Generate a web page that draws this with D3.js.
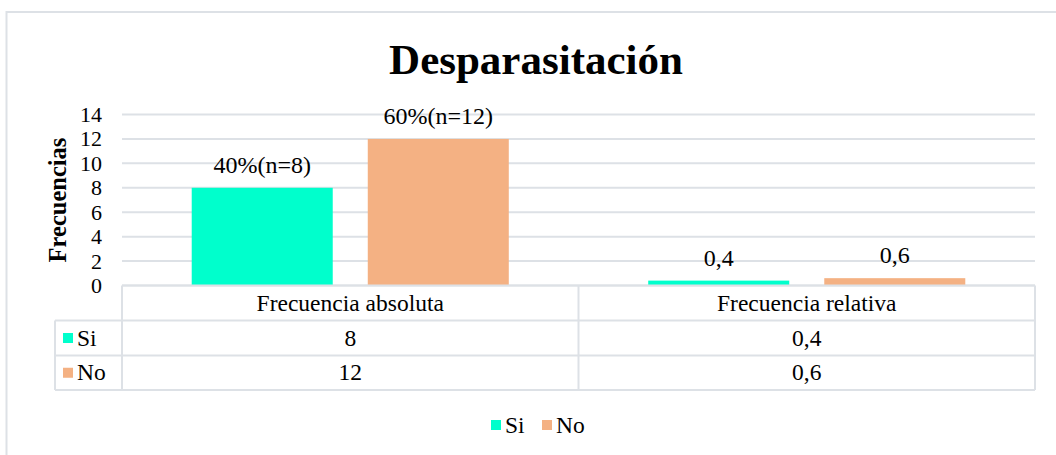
<!DOCTYPE html>
<html>
<head>
<meta charset="utf-8">
<script src="https://cdn.jsdelivr.net/npm/d3@7"></script>
<style>
  body { margin: 0; background: #fff; }
  text { font-family: "Liberation Serif", "Times New Roman", serif; fill: #000; }
</style>
</head>
<body>
<div id="chart"></div>
<script>
var categories = ["Frecuencia absoluta", "Frecuencia relativa"];
var series = ["Si", "No"];
var siValues = [8, 0.4];
var noValues = [12, 0.6];
var siLabels = ["40%(n=8)", "0,4"];
var noLabels = ["60%(n=12)", "0,6"];
var siTable = ["8", "0,4"];
var noTable = ["12", "0,6"];
var yTicks = [0, 2, 4, 6, 8, 10, 12, 14];
var colors = { Si: "#00ffcc", No: "#f4b183" };

var width = 1056, height = 455;
var plotLeft = 122, plotRight = 1035, plotTop = 114.5, plotBottom = 285.5;
var gridColor = "#dde1e6";

var svg = d3.select("#chart").append("svg")
  .attr("width", width)
  .attr("height", height);

// outer chart border (runs off the right/bottom of the picture)
svg.append("rect")
  .attr("x", 6.5).attr("y", 12)
  .attr("width", 1070).attr("height", 470)
  .style("fill", "none")
  .style("stroke", gridColor)
  .style("stroke-width", 2);

svg.append("text")
  .attr("x", 536).attr("y", 74)
  .attr("text-anchor", "middle")
  .attr("font-size", "43px")
  .attr("font-weight", "bold")
  .text("Desparasitación");

var yScale = d3.scaleLinear().domain([0, 14]).range([plotBottom, plotTop]);

var xScale = d3.scaleBand()
  .domain(categories)
  .range([plotLeft, plotRight]);

var xSub = d3.scaleBand()
  .domain(series)
  .range([0, xScale.bandwidth()])
  .paddingInner(0.199)
  .paddingOuter(0.396);

// gridlines
svg.append("g")
  .selectAll("line")
  .data(yTicks)
  .enter()
  .append("line")
  .attr("x1", plotLeft).attr("x2", plotRight)
  .attr("y1", function(d) { return yScale(d); })
  .attr("y2", function(d) { return yScale(d); })
  .style("stroke", gridColor)
  .style("stroke-width", 2);

// y axis tick labels
var yAxis = d3.axisLeft(yScale).tickValues(yTicks).tickSize(0).tickPadding(20);
var yG = svg.append("g")
  .attr("transform", "translate(" + plotLeft + ",0)")
  .call(yAxis);
yG.select(".domain").remove();
yG.selectAll("text")
  .attr("font-size", "22px")
  .attr("font-family", "Liberation Serif, serif")
  .attr("fill", "#000");

svg.append("text")
  .attr("transform", "translate(66," + ((plotTop + plotBottom) / 2) + ") rotate(-90)")
  .attr("text-anchor", "middle")
  .attr("font-size", "24.5px")
  .attr("font-weight", "bold")
  .text("Frecuencias");

var rows = categories.map(function(c, i) {
  return { cat: c, Si: siValues[i], No: noValues[i], SiLab: siLabels[i], NoLab: noLabels[i] };
});

var groups = svg.append("g").selectAll("g")
  .data(rows)
  .enter()
  .append("g")
  .attr("transform", function(d) { return "translate(" + xScale(d.cat) + ",0)"; });

groups.selectAll("rect")
  .data(function(d) { return series.map(function(s) { return { key: s, value: d[s] }; }); })
  .enter()
  .append("rect")
  .attr("x", function(d) { return xSub(d.key); })
  .attr("width", xSub.bandwidth())
  .attr("y", function(d) { return yScale(d.value); })
  .attr("height", function(d) { return yScale(0) - yScale(d.value); })
  .style("fill", function(d) { return colors[d.key]; });

groups.selectAll("text.lab")
  .data(function(d) { return series.map(function(s) { return { key: s, value: d[s], label: d[s + "Lab"] }; }); })
  .enter()
  .append("text")
  .attr("class", "lab")
  .attr("x", function(d) { return xSub(d.key) + xSub.bandwidth() / 2; })
  .attr("y", function(d) { return yScale(d.value) - 15; })
  .attr("text-anchor", "middle")
  .attr("font-size", "24px")
  .text(function(d) { return d.label; });

// data table under the plot
var tableLeft = 55;
var rowTops = [plotBottom, 320.5, 355.5, 390];
var table = svg.append("g");

// horizontal rules
table.selectAll("line.h")
  .data(rowTops)
  .enter()
  .append("line")
  .attr("class", "h")
  .attr("x1", function(d, i) { return i === 0 ? plotLeft : tableLeft; })
  .attr("x2", plotRight)
  .attr("y1", function(d) { return d; })
  .attr("y2", function(d) { return d; })
  .style("stroke", gridColor)
  .style("stroke-width", 2);

// vertical rules
var vLines = [plotLeft].concat(categories.map(function(c) { return xScale(c) + xScale.bandwidth(); }));
table.selectAll("line.v")
  .data(vLines)
  .enter()
  .append("line")
  .attr("class", "v")
  .attr("x1", function(d) { return d; })
  .attr("x2", function(d) { return d; })
  .attr("y1", plotBottom)
  .attr("y2", rowTops[3])
  .style("stroke", gridColor)
  .style("stroke-width", 2);

table.append("line")
  .attr("x1", tableLeft).attr("x2", tableLeft)
  .attr("y1", rowTops[1]).attr("y2", rowTops[3])
  .style("stroke", gridColor)
  .style("stroke-width", 2);

// header row
table.selectAll("text.cat")
  .data(categories)
  .enter()
  .append("text")
  .attr("class", "cat")
  .attr("x", function(d) { return xScale(d) + xScale.bandwidth() / 2; })
  .attr("y", (rowTops[0] + rowTops[1]) / 2 + 7.5)
  .attr("text-anchor", "middle")
  .attr("font-size", "23.5px")
  .text(function(d) { return d; });

var tableRows = [
  { key: "Si", vals: siTable, top: rowTops[1], bottom: rowTops[2] },
  { key: "No", vals: noTable, top: rowTops[2], bottom: rowTops[3] }
];

tableRows.forEach(function(r) {
  var cy = (r.top + r.bottom) / 2;
  table.append("rect")
    .attr("x", 63).attr("y", cy - 5)
    .attr("width", 10).attr("height", 10)
    .style("fill", colors[r.key]);
  table.append("text")
    .attr("x", 77).attr("y", cy + 7.5)
    .attr("font-size", "23.5px")
    .text(r.key);
  table.selectAll(null)
    .data(r.vals)
    .enter()
    .append("text")
    .attr("x", function(d, i) { return xScale(categories[i]) + xScale.bandwidth() / 2; })
    .attr("y", cy + 7.5)
    .attr("text-anchor", "middle")
    .attr("font-size", "23.5px")
    .text(function(d) { return d; });
});

// legend
var legendX = [491, 542];
var legend = svg.append("g").selectAll("g")
  .data(series)
  .enter()
  .append("g")
  .attr("transform", function(d, i) { return "translate(" + legendX[i] + ",420)"; });

legend.append("rect")
  .attr("width", 10).attr("height", 10)
  .style("fill", function(d) { return colors[d]; });

legend.append("text")
  .attr("x", 14).attr("y", 13)
  .attr("font-size", "23.5px")
  .text(function(d) { return d; });
</script>
</body>
</html>
